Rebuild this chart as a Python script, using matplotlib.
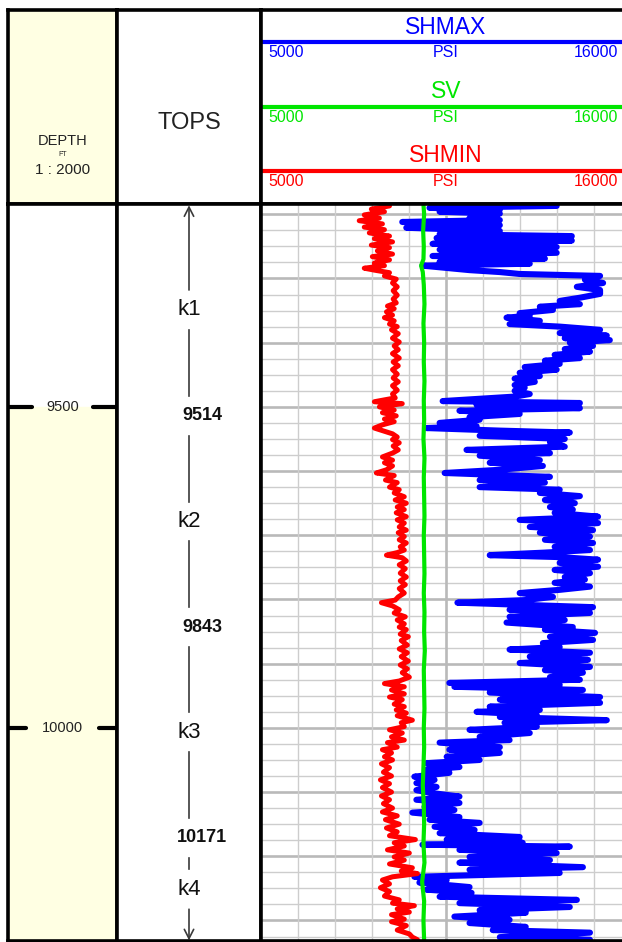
import matplotlib
matplotlib.use('Agg')
import matplotlib.pyplot as plt
import numpy as np

plt.rcParams['font.family'] = ['Liberation Sans', 'DejaVu Sans']

# track scale
psi_min, psi_max = 5000, 16000
top_depth, bottom_depth = 9184, 10332

# formation tops (ft) and zone names between them
tops_depth = [9514, 9843, 10171]
zone_names = ['k1', 'k2', 'k3', 'k4']
depth_marks = [9500, 10000]

curve_names = ['SHMAX', 'SV', 'SHMIN']
curve_units = 'PSI'

# SHMAX (blue)
shmax_depth = [9187, 9190, 9193, 9196, 9199, 9206, 9209, 9212, 9217, 9221, 9226, 9231, 9234, 9237,
               9241, 9246, 9251, 9255, 9260, 9265, 9269, 9274, 9277, 9280, 9287, 9290, 9293, 9296,
               9302, 9307, 9313, 9318, 9324, 9330, 9335, 9340, 9344, 9349, 9354, 9358, 9361, 9366,
               9371, 9375, 9380, 9385, 9389, 9393, 9396, 9400, 9405, 9410, 9414, 9419, 9424, 9428,
               9433, 9438, 9442, 9447, 9452, 9456, 9461, 9466, 9470, 9475, 9480, 9484, 9491, 9494,
               9497, 9502, 9506, 9511, 9516, 9520, 9525, 9530, 9533, 9537, 9540, 9545, 9550, 9555,
               9562, 9567, 9572, 9576, 9583, 9587, 9592, 9598, 9603, 9609, 9614, 9618, 9625, 9629,
               9634, 9639, 9645, 9650, 9656, 9660, 9665, 9671, 9676, 9681, 9687, 9692, 9696, 9702,
               9707, 9712, 9718, 9723, 9727, 9731, 9734, 9738, 9743, 9749, 9754, 9759, 9765, 9769,
               9774, 9780, 9785, 9790, 9796, 9801, 9805, 9812, 9816, 9821, 9827, 9832, 9836, 9843,
               9847, 9852, 9858, 9863, 9868, 9874, 9878, 9883, 9889, 9894, 9899, 9905, 9910, 9914,
               9921, 9925, 9930, 9933, 9936, 9941, 9945, 9952, 9956, 9961, 9967, 9972, 9975, 9980,
               9983, 9988, 9992, 9998, 10003, 10008, 10014, 10019, 10023, 10030, 10034, 10039, 10045,
               10050, 10055, 10061, 10065, 10070, 10076, 10081, 10086, 10092, 10097, 10101, 10107,
               10112, 10117, 10123, 10128, 10132, 10139, 10143, 10148, 10154, 10159, 10164, 10170,
               10174, 10179, 10182, 10185, 10190, 10195, 10201, 10206, 10210, 10217, 10221, 10226,
               10232, 10237, 10241, 10248, 10252, 10257, 10263, 10268, 10273, 10279, 10284, 10288,
               10294, 10299, 10304, 10310, 10315, 10319, 10326, 10330]
shmax_psi = [13790, 10010, 12100, 10310, 12100, 11200, 12100, 9200, 12100, 9320, 12100, 10310, 14240, 10220,
             14240, 10100, 13790, 10310, 13790, 10100, 13440, 10310, 12990, 9800, 11200, 12100, 12690, 15080,
             14630, 15170, 14390, 15080, 15080, 14480, 13880, 14480, 13290, 13680, 12690, 12990, 12300, 13290,
             12390, 13880, 15080, 13880, 15280, 14030, 15370, 14180, 14870, 14030, 14780, 13730, 14480, 13440,
             13880, 12840, 13790, 12690, 13290, 12540, 13140, 12540, 12840, 12540, 12990, 12540, 10400, 14480,
             11410, 14480, 10900, 12690, 11200, 11500, 10310, 11410, 9920, 12100, 14180, 11500, 14030, 13590,
             14030, 11110, 13590, 11500, 13290, 11800, 13380, 12100, 10460, 13590, 11500, 13440, 11500, 13880,
             13290, 14480, 13440, 14330, 13590, 14270, 13730, 15020, 12690, 15020, 12990, 14870, 13290, 14780,
             13440, 14870, 13730, 14780, 13440, 11800, 13880, 15020, 13880, 15020, 13730, 14780, 14030, 14630,
             13730, 14780, 13880, 12690, 13680, 12840, 10840, 14870, 12390, 14780, 12390, 14030, 12300, 14270,
             13440, 14930, 13590, 14870, 13380, 13880, 12390, 14780, 12990, 14720, 12690, 14780, 13440, 14570,
             13590, 14480, 10600, 13880, 10750, 14570, 11800, 15080, 12100, 15080, 11800, 13290, 11410, 13200,
             12100, 15280, 12240, 13200, 11200, 12990, 11500, 12390, 10310, 12100, 10600, 12100, 10520,
             11500, 9920, 10900, 9920, 10600, 9560, 10160, 9620, 10220, 9620, 10010, 10900,
             9620, 10900, 9860, 10750, 9500, 10900, 10010, 11500, 10160, 11350, 10310, 12690,
             10520, 12780, 9800, 14180, 10900, 13790, 11200, 13590, 10900, 14570, 11200, 13880,
             9560, 10520, 9710, 11200, 9920, 11260, 10310, 14390, 10900, 14180, 11500, 12870,
             10750, 12390, 11200, 12870, 11890, 14780, 12100, 14780]

# SHMIN (red)
shmin_depth = [9187, 9192, 9196, 9201, 9206, 9210, 9215, 9220, 9224, 9229, 9234, 9238, 9243, 9248,
               9252, 9257, 9262, 9266, 9271, 9276, 9280, 9284, 9287, 9291, 9296, 9301, 9307, 9313,
               9319, 9326, 9332, 9338, 9343, 9347, 9352, 9357, 9361, 9366, 9371, 9375, 9380, 9386,
               9393, 9399, 9405, 9411, 9417, 9424, 9430, 9436, 9442, 9449, 9455, 9461, 9467, 9474,
               9480, 9486, 9492, 9495, 9500, 9505, 9509, 9514, 9519, 9523, 9528, 9533, 9537, 9542,
               9547, 9551, 9556, 9561, 9567, 9572, 9578, 9583, 9587, 9592, 9598, 9603, 9607, 9614,
               9618, 9625, 9629, 9634, 9640, 9645, 9650, 9656, 9660, 9665, 9671, 9676, 9681, 9687,
               9692, 9696, 9702, 9707, 9712, 9718, 9723, 9727, 9731, 9735, 9740, 9746, 9752, 9759,
               9765, 9771, 9777, 9783, 9790, 9796, 9801, 9805, 9810, 9816, 9821, 9827, 9832, 9838,
               9843, 9847, 9854, 9858, 9864, 9871, 9877, 9883, 9889, 9896, 9902, 9908, 9914, 9921,
               9927, 9931, 9936, 9941, 9947, 9952, 9956, 9963, 9967, 9972, 9977, 9981, 9988, 9992,
               9998, 10003, 10008, 10014, 10019, 10023, 10030, 10034, 10039, 10045, 10050, 10056,
               10062, 10069, 10075, 10081, 10087, 10093, 10100, 10106, 10112, 10118, 10125, 10131,
               10137, 10143, 10150, 10156, 10162, 10168, 10174, 10179, 10184, 10190, 10195, 10201,
               10206, 10212, 10218, 10223, 10227, 10232, 10237, 10243, 10249, 10255, 10262, 10268,
               10273, 10277, 10282, 10287, 10291, 10298, 10302, 10308, 10315, 10321, 10326, 10330]
shmin_psi = [8820, 8280, 8670, 8070, 8520, 7920, 8610, 8070, 8670, 8220, 8820, 8370, 8910, 8280,
             8820, 8460, 8910, 8310, 8820, 8370, 8670, 8070, 8370, 8820, 8670, 9020, 8910, 9050,
             8930, 9050, 8930, 9020, 8760, 8960, 8730, 8910, 8670, 8960, 8820, 9050, 8880, 9080,
             8910, 9110, 8960, 9080, 8910, 9110, 8930, 9080, 8910, 9050, 8930, 9080, 8910, 9050,
             8910, 8990, 8370, 9200, 8520, 8960, 8610, 9020, 8670, 8960, 8610, 8370, 8610, 8910,
             9050, 8910, 9110, 8930, 9080, 8910, 8610, 8910, 8670, 8910, 8730, 8430, 8960, 8700,
             9050, 8820, 9110, 8960, 9260, 8990, 9320, 9050, 9260, 9020, 9320, 9050, 9260, 9110,
             9320, 9080, 9260, 9110, 9320, 9140, 9260, 9050, 8730, 9200, 9320, 9110, 9290, 9140,
             9320, 9140, 9290, 9110, 9260, 9080, 8990, 8580, 8910, 9110, 8960, 9290, 9050, 9260,
             9110, 9320, 9140, 9380, 9170, 9350, 9110, 9350, 9170, 9380, 9140, 9350, 9200, 9410,
             9110, 8670, 9260, 8880, 9260, 8820, 9200, 8960, 9260, 9020, 9320, 9050, 9500, 9170,
             9260, 8820, 9200, 8880, 9260, 8760, 9050, 8610, 8880, 8670, 8910, 8580,
             8820, 8640, 8880, 8550, 8820, 8610, 8880, 8580, 8820, 8640, 8910, 8610,
             9050, 8700, 9110, 8730, 9050, 8820, 9590, 8960, 9260, 8760, 9410, 8960,
             9260, 8820, 9500, 9170, 9650, 8910, 8610, 8820, 8550, 8820, 8670, 9110,
             8910, 9560, 9050, 9410, 8880, 9260, 8880, 9320, 9050, 9410, 9500, 9650]

# SV (green)
sv_depth = [9185, 9200, 9225, 9250, 9270, 9280, 9290, 9310, 9340, 9370, 9400, 9430, 9460, 9490,
            9520, 9550, 9580, 9610, 9640, 9670, 9700, 9730, 9760, 9790, 9820, 9850, 9880, 9910,
            9940, 9970, 10000, 10030, 10060, 10090, 10120, 10150, 10180, 10210, 10240, 10270,
            10300, 10332]
sv_psi = [9830, 9850, 9820, 9840, 9830, 9760, 9810, 9840, 9860, 9830, 9850, 9840, 9860, 9840,
          9850, 9830, 9860, 9840, 9850, 9860, 9840, 9850, 9860, 9840, 9860, 9850, 9870, 9840,
          9850, 9860, 9840, 9850, 9830, 9810, 9840, 9850, 9830, 9860, 9790, 9850, 9830, 9850]

colors = ['#0000ff', '#00e600', '#ff0000']
yellow = '#ffffe3'

W, H = 622, 942
fig = plt.figure(figsize=(W / 100, H / 100), dpi=100)


def cell(x0, y0, x1, y1, face='white'):
    ax = fig.add_axes([x0 / W, 1 - y1 / H, (x1 - x0) / W, (y1 - y0) / H], facecolor=face)
    ax.set_xticks([])
    ax.set_yticks([])
    for s in ax.spines.values():
        s.set_linewidth(2.6)
        s.set_color('black')
        s.set_zorder(10)
    return ax


# ---- header ----
hd = cell(8, 10, 117, 204, face=yellow)
hd.set_xlim(0, 1)
hd.set_ylim(204, 10)
hd.text(0.5, 141, 'DEPTH', ha='center', va='center', fontsize=10.5, color='#222222')
hd.text(0.5, 154, 'FT', ha='center', va='center', fontsize=5, color='#222222')
hd.text(0.5, 170, '1 : 2000', ha='center', va='center', fontsize=11, color='#222222')

ht = cell(117, 10, 261, 204)
ht.set_xlim(0, 1)
ht.set_ylim(204, 10)
ht.text(0.5, 123, 'TOPS', ha='center', va='center', fontsize=17, color='#222222')

hl = cell(261, 10, 631, 204)
hl.set_xlim(psi_min, psi_max)
hl.set_ylim(204, 10)
tr = hl.get_yaxis_transform()
for i, (name, c) in enumerate(zip(curve_names, colors)):
    row = 27 + i * 64.5
    hl.text(0.5, row, name, transform=tr, ha='center', va='center', fontsize=16.5, color=c)
    hl.plot([psi_min, psi_max], [row + 15, row + 15], color=c, lw=3, solid_capstyle='butt')
    hl.text(0.02, row + 25.5, str(psi_min), transform=tr, ha='left', va='center', fontsize=11.5, color=c)
    hl.text(0.5, row + 25.5, curve_units, transform=tr, ha='center', va='center', fontsize=11.5, color=c)
    hl.text(0.966, row + 25.5, str(psi_max), transform=tr, ha='right', va='center', fontsize=11.5, color=c)

# ---- depth track ----
bd = cell(8, 204, 117, 941)
bd.set_xlim(0, 1)
bd.set_ylim(bottom_depth, top_depth)
bd.axhspan(depth_marks[0], bottom_depth, color=yellow, zorder=0)
for d in depth_marks:
    lab = str(d)
    half = 0.07 + 0.053 * len(lab)
    bd.text(0.5, d, lab, ha='center', va='center', fontsize=10.5, color='#222222')
    bd.plot([0, 0.5 - half], [d, d], color='black', lw=3, solid_capstyle='round')
    bd.plot([0.5 + half, 1], [d, d], color='black', lw=3, solid_capstyle='round')

# ---- tops track ----
bt = cell(117, 204, 261, 941)
bt.set_xlim(0, 1)
bt.set_ylim(bottom_depth, top_depth)
bounds = [top_depth] + tops_depth + [bottom_depth]
mids = [(a + b) / 2 for a, b in zip(bounds[:-1], bounds[1:])]
labels = []
for i, name in enumerate(zone_names):
    labels.append((mids[i], name, 'normal', 16, 0.5))
    if i < len(tops_depth):
        labels.append((tops_depth[i], str(tops_depth[i]), 'bold', 13, 0.59))
for d, txt, w, fs, xpos in labels:
    bt.text(xpos, d, txt, ha='center', va='center', fontsize=fs, fontweight=w, color='#111111')
gap = 31
line_kw = dict(color='#3a3a3a', lw=1.2)
for (a, *_), (b, *_) in zip(labels[:-1], labels[1:]):
    bt.plot([0.5, 0.5], [a + gap, b - gap], **line_kw)
arrow = dict(arrowstyle='->,head_length=0.55,head_width=0.28', color='#3a3a3a', lw=1.2,
             mutation_scale=12, shrinkA=0, shrinkB=0)
bt.annotate('', xy=(0.5, top_depth + 2), xytext=(0.5, labels[0][0] - gap), arrowprops=arrow)
bt.annotate('', xy=(0.5, bottom_depth - 1), xytext=(0.5, labels[-1][0] + gap), arrowprops=arrow)

# ---- log track ----
bl = cell(261, 204, 631, 941)
bl.set_xlim(psi_min, psi_max)
bl.set_ylim(bottom_depth, top_depth)
for d in np.arange(9200, bottom_depth, 25):
    major = d % 100 == 0
    bl.axhline(d, color='#b9b9b9' if major else '#cdcdcd', lw=1.9 if major else 1.0, zorder=1)
step = (psi_max - psi_min) / 10
for k in range(1, 10):
    bl.axvline(psi_min + k * step, color='#b9b9b9' if k == 5 else '#cdcdcd',
               lw=1.9 if k == 5 else 1.0, zorder=1)

style = dict(solid_capstyle='round', solid_joinstyle='round')
bl.plot(shmax_psi, shmax_depth, color=colors[0], lw=4.4, zorder=3, **style)
bl.plot(shmin_psi, shmin_depth, color=colors[2], lw=3.6, zorder=4, **style)
bl.plot(sv_psi, sv_depth, color=colors[1], lw=3.0, zorder=5, **style)

fig.savefig('out.png', dpi=100)
